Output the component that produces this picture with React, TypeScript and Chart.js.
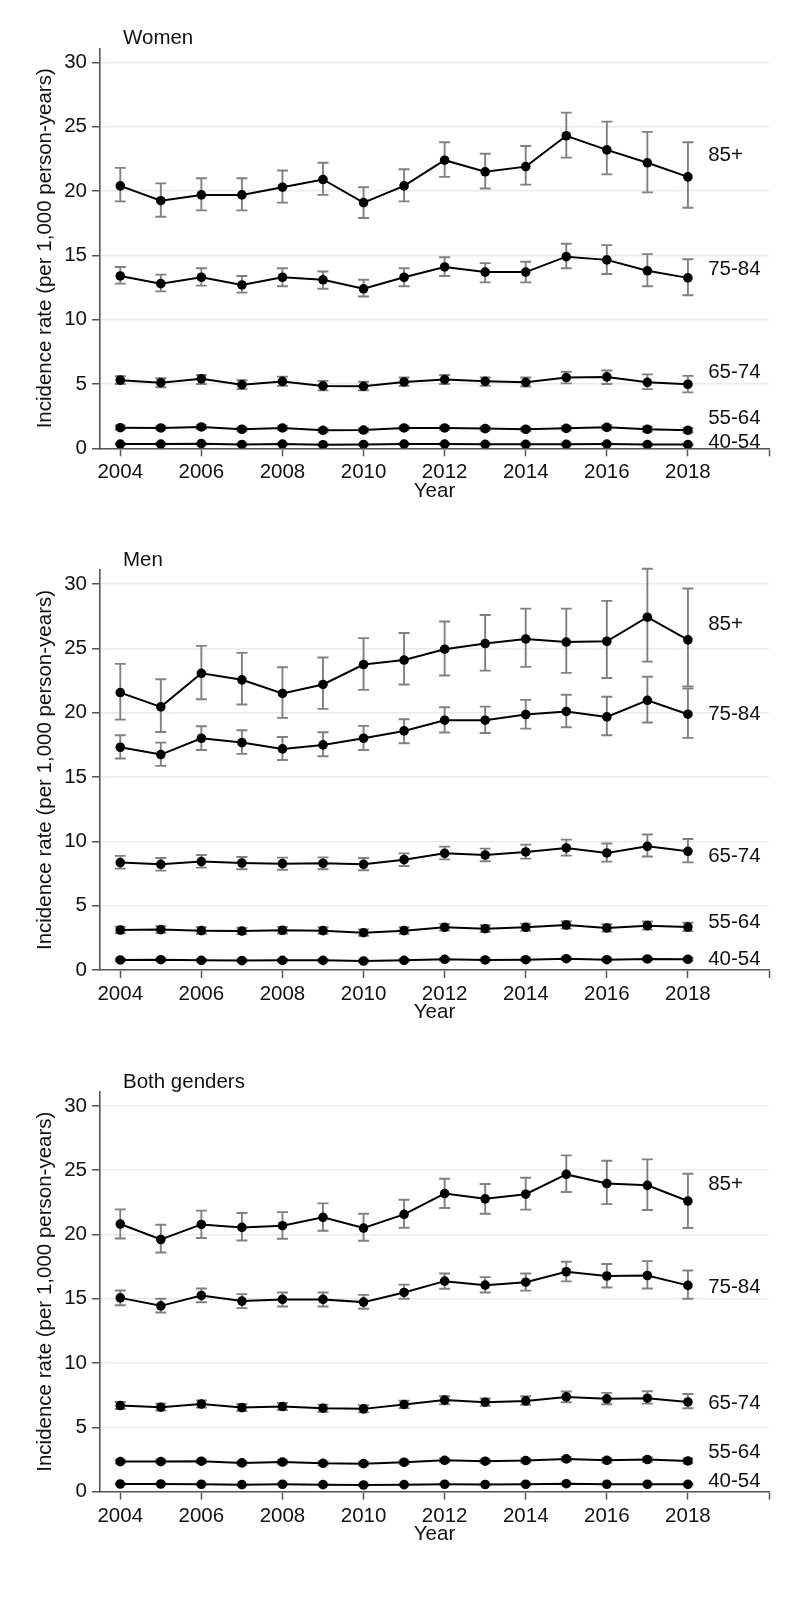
import React, { useEffect, useRef } from 'react';
import { Chart, registerables } from 'chart.js';

Chart.register(...registerables);

const FONT = '"Liberation Sans", Arial, Helvetica, sans-serif';
const FS = 20.5;

const YEARS = [2004, 2005, 2006, 2007, 2008, 2009, 2010, 2011, 2012, 2013, 2014, 2015, 2016, 2017, 2018];
const X_TICKS = [2004, 2006, 2008, 2010, 2012, 2014, 2016, 2018, 2020];
const Y_TICKS = [0, 5, 10, 15, 20, 25, 30];
const GROUPS = ['85+', '75-84', '65-74', '55-64', '40-54'];
const PANEL_TITLES = ['Women', 'Men', 'Both genders'];
const X_TITLE = 'Year';
const Y_TITLE = 'Incidence rate (per 1,000 person-years)';

// ---------- Women ----------
const women85 = [20.4, 19.25, 19.7, 19.7, 20.3, 20.9, 19.1, 20.4, 22.4, 21.5, 21.9, 24.3, 23.2, 22.2, 21.1];
const women85Lo = [19.2, 18.0, 18.5, 18.5, 19.1, 19.7, 17.9, 19.2, 21.1, 20.2, 20.5, 22.6, 21.3, 19.9, 18.7];
const women85Hi = [21.8, 20.6, 21.0, 21.0, 21.6, 22.2, 20.3, 21.7, 23.8, 22.9, 23.5, 26.1, 25.4, 24.6, 23.8];
const women75 = [13.4, 12.8, 13.3, 12.7, 13.3, 13.1, 12.4, 13.3, 14.1, 13.7, 13.7, 14.9, 14.65, 13.8, 13.25];
const women75Lo = [12.8, 12.2, 12.65, 12.1, 12.6, 12.4, 11.8, 12.6, 13.4, 12.9, 12.9, 14.0, 13.55, 12.6, 11.9];
const women75Hi = [14.1, 13.5, 14.0, 13.4, 14.0, 13.75, 13.1, 14.0, 14.85, 14.4, 14.5, 15.9, 15.8, 15.1, 14.7];
const women65 = [5.3, 5.1, 5.4, 4.95, 5.2, 4.85, 4.82, 5.16, 5.34, 5.21, 5.13, 5.5, 5.55, 5.13, 4.98];
const women65Lo = [5.0, 4.75, 5.0, 4.6, 4.85, 4.5, 4.5, 4.85, 5.0, 4.85, 4.8, 5.05, 5.0, 4.6, 4.35];
const women65Hi = [5.6, 5.45, 5.7, 5.3, 5.57, 5.24, 5.18, 5.5, 5.7, 5.5, 5.5, 5.95, 6.05, 5.75, 5.63];
const women55 = [1.6, 1.58, 1.66, 1.48, 1.58, 1.4, 1.42, 1.58, 1.58, 1.53, 1.48, 1.55, 1.63, 1.48, 1.4];
const women55Lo = [1.45, 1.43, 1.5, 1.33, 1.43, 1.26, 1.28, 1.43, 1.43, 1.38, 1.33, 1.39, 1.46, 1.3, 1.22];
const women55Hi = [1.76, 1.73, 1.82, 1.63, 1.74, 1.55, 1.57, 1.73, 1.74, 1.68, 1.63, 1.72, 1.8, 1.67, 1.59];
const women40 = [0.33, 0.33, 0.36, 0.3, 0.33, 0.28, 0.3, 0.33, 0.33, 0.31, 0.31, 0.31, 0.33, 0.29, 0.29];
const women40Lo = [0.27, 0.27, 0.3, 0.24, 0.27, 0.22, 0.24, 0.27, 0.27, 0.25, 0.25, 0.25, 0.26, 0.22, 0.22];
const women40Hi = [0.39, 0.39, 0.42, 0.36, 0.39, 0.34, 0.36, 0.39, 0.39, 0.37, 0.37, 0.37, 0.4, 0.36, 0.36];
const womenLabelY = [22.8, 13.9, 5.9, 2.36, 0.49];

// ---------- Men ----------
const men85 = [21.57, 20.46, 23.07, 22.56, 21.5, 22.2, 23.75, 24.1, 24.94, 25.38, 25.74, 25.5, 25.56, 27.43, 25.67];
const men85Lo = [19.47, 18.5, 21.05, 20.64, 19.6, 20.3, 21.78, 22.2, 22.9, 23.28, 23.57, 23.1, 22.7, 23.98, 22.04];
const men85Hi = [23.8, 22.6, 25.2, 24.66, 23.54, 24.3, 25.8, 26.2, 27.1, 27.6, 28.1, 28.1, 28.7, 31.2, 29.66];
const men75 = [17.32, 16.75, 18.02, 17.68, 17.19, 17.5, 18.02, 18.59, 19.42, 19.42, 19.86, 20.1, 19.68, 20.97, 19.89];
const men75Lo = [16.44, 15.87, 17.1, 16.8, 16.33, 16.62, 17.1, 17.63, 18.46, 18.43, 18.77, 18.87, 18.25, 19.24, 18.05];
const men75Hi = [18.25, 17.68, 18.95, 18.64, 18.12, 18.49, 18.98, 19.5, 20.43, 20.48, 21.0, 21.4, 21.24, 22.8, 21.88];
const men65 = [8.35, 8.22, 8.43, 8.32, 8.27, 8.3, 8.22, 8.58, 9.07, 8.94, 9.18, 9.49, 9.1, 9.62, 9.23];
const men65Lo = [7.88, 7.73, 7.96, 7.83, 7.8, 7.83, 7.75, 8.09, 8.6, 8.45, 8.66, 8.89, 8.43, 8.82, 8.37];
const men65Hi = [8.87, 8.71, 8.94, 8.79, 8.74, 8.76, 8.71, 9.07, 9.59, 9.44, 9.75, 10.14, 9.83, 10.53, 10.19];
const men55 = [3.11, 3.14, 3.06, 3.03, 3.09, 3.06, 2.9, 3.06, 3.32, 3.21, 3.32, 3.5, 3.27, 3.45, 3.34];
const men55Lo = [2.86, 2.89, 2.82, 2.79, 2.84, 2.81, 2.66, 2.81, 3.06, 2.95, 3.05, 3.22, 2.98, 3.14, 3.02];
const men55Hi = [3.37, 3.4, 3.32, 3.29, 3.35, 3.32, 3.16, 3.32, 3.59, 3.48, 3.6, 3.79, 3.57, 3.77, 3.67];
const men40 = [0.78, 0.8, 0.75, 0.73, 0.75, 0.75, 0.7, 0.75, 0.83, 0.78, 0.8, 0.88, 0.8, 0.86, 0.83];
const men40Lo = [0.68, 0.7, 0.65, 0.63, 0.65, 0.65, 0.6, 0.65, 0.72, 0.67, 0.69, 0.77, 0.69, 0.74, 0.71];
const men40Hi = [0.88, 0.9, 0.85, 0.83, 0.85, 0.85, 0.8, 0.85, 0.94, 0.89, 0.91, 0.99, 0.91, 0.98, 0.95];
const menLabelY = [26.9, 19.9, 8.87, 3.68, 0.83];

// ---------- Both genders ----------
const both85 = [20.81, 19.61, 20.78, 20.55, 20.68, 21.33, 20.5, 21.56, 23.18, 22.77, 23.13, 24.67, 23.96, 23.82, 22.6];
const both85Lo = [19.69, 18.6, 19.72, 19.53, 19.67, 20.29, 19.51, 20.52, 22.06, 21.61, 21.93, 23.3, 22.36, 21.9, 20.5];
const both85Hi = [21.95, 20.76, 21.85, 21.67, 21.74, 22.42, 21.61, 22.7, 24.33, 23.92, 24.41, 26.15, 25.73, 25.84, 24.72];
const both75 = [15.07, 14.45, 15.26, 14.82, 14.95, 14.95, 14.74, 15.49, 16.37, 16.06, 16.29, 17.1, 16.77, 16.81, 16.04];
const both75Lo = [14.5, 13.93, 14.73, 14.27, 14.4, 14.4, 14.22, 15.0, 15.78, 15.49, 15.63, 16.35, 15.88, 15.8, 15.0];
const both75Hi = [15.64, 15.0, 15.8, 15.36, 15.49, 15.49, 15.3, 16.1, 16.97, 16.68, 16.97, 17.88, 17.7, 17.93, 17.2];
const both65 = [6.7, 6.57, 6.82, 6.54, 6.62, 6.49, 6.44, 6.78, 7.12, 6.96, 7.06, 7.37, 7.22, 7.27, 6.98];
const both65Lo = [6.43, 6.3, 6.55, 6.27, 6.35, 6.22, 6.17, 6.5, 6.8, 6.67, 6.75, 6.96, 6.8, 6.85, 6.49];
const both65Hi = [6.98, 6.85, 7.1, 6.82, 6.9, 6.77, 6.72, 7.07, 7.42, 7.25, 7.42, 7.79, 7.68, 7.81, 7.6];
const both55 = [2.34, 2.34, 2.37, 2.24, 2.31, 2.21, 2.18, 2.29, 2.44, 2.37, 2.42, 2.55, 2.44, 2.5, 2.39];
const both55Lo = [2.2, 2.2, 2.23, 2.1, 2.17, 2.07, 2.04, 2.15, 2.29, 2.22, 2.27, 2.39, 2.27, 2.33, 2.2];
const both55Hi = [2.48, 2.48, 2.51, 2.38, 2.45, 2.35, 2.32, 2.43, 2.59, 2.52, 2.57, 2.71, 2.61, 2.67, 2.58];
const both40 = [0.6, 0.6, 0.58, 0.55, 0.58, 0.55, 0.52, 0.55, 0.58, 0.56, 0.58, 0.62, 0.58, 0.58, 0.57];
const both40Lo = [0.54, 0.54, 0.52, 0.49, 0.52, 0.49, 0.46, 0.49, 0.52, 0.5, 0.52, 0.55, 0.51, 0.51, 0.5];
const both40Hi = [0.66, 0.66, 0.64, 0.61, 0.64, 0.61, 0.58, 0.61, 0.64, 0.62, 0.64, 0.69, 0.65, 0.65, 0.64];
const bothLabelY = [23.9, 15.85, 6.9, 3.09, 0.83];

const LABEL_X = 2018.5;

type Series = { values: number[]; lo: number[]; hi: number[] };

const PANELS = [
  {
    title: PANEL_TITLES[0],
    series: [
      { values: women85, lo: women85Lo, hi: women85Hi },
      { values: women75, lo: women75Lo, hi: women75Hi },
      { values: women65, lo: women65Lo, hi: women65Hi },
      { values: women55, lo: women55Lo, hi: women55Hi },
      { values: women40, lo: women40Lo, hi: women40Hi },
    ] as Series[],
    labelY: womenLabelY,
    top: 0,
    height: 520,
    padTop: 48.3,
  },
  {
    title: PANEL_TITLES[1],
    series: [
      { values: men85, lo: men85Lo, hi: men85Hi },
      { values: men75, lo: men75Lo, hi: men75Hi },
      { values: men65, lo: men65Lo, hi: men65Hi },
      { values: men55, lo: men55Lo, hi: men55Hi },
      { values: men40, lo: men40Lo, hi: men40Hi },
    ] as Series[],
    labelY: menLabelY,
    top: 520,
    height: 520,
    padTop: 50,
  },
  {
    title: PANEL_TITLES[2],
    series: [
      { values: both85, lo: both85Lo, hi: both85Hi },
      { values: both75, lo: both75Lo, hi: both75Hi },
      { values: both65, lo: both65Lo, hi: both65Hi },
      { values: both55, lo: both55Lo, hi: both55Hi },
      { values: both40, lo: both40Lo, hi: both40Hi },
    ] as Series[],
    labelY: bothLabelY,
    top: 1040,
    height: 560,
    padTop: 51.7,
  },
];

const PLOT_H = 400;
const X_AXIS_H = 53;
const AXIS_COLOR = '#555555';
const GRID_COLOR = '#e3edf0';
const ERR_COLOR = '#808080';
const TEXT_COLOR = '#111111';

function Panel(props: { title: string; series: Series[]; labelY: number[]; top: number; height: number; padTop: number }) {
  const ref = useRef<HTMLCanvasElement | null>(null);
  useEffect(() => {
    const canvas = ref.current;
    if (!canvas) return;
    const { title, series, labelY, height, padTop } = props;
    const padBottom = height - padTop - PLOT_H - X_AXIS_H;

    const errorBars = {
      id: 'errorBars',
      beforeDatasetsDraw(chart: any) {
        const { ctx, scales } = chart;
        const x = scales.x;
        const y = scales.y;
        ctx.save();
        ctx.strokeStyle = ERR_COLOR;
        ctx.lineWidth = 1.9;
        series.forEach((s) => {
          YEARS.forEach((yr, i) => {
            const px = x.getPixelForValue(yr);
            const y1 = y.getPixelForValue(s.lo[i]);
            const y2 = y.getPixelForValue(s.hi[i]);
            ctx.beginPath();
            ctx.moveTo(px, y1);
            ctx.lineTo(px, y2);
            ctx.moveTo(px - 5.5, y1);
            ctx.lineTo(px + 5.5, y1);
            ctx.moveTo(px - 5.5, y2);
            ctx.lineTo(px + 5.5, y2);
            ctx.stroke();
          });
        });
        ctx.restore();
      },
    };

    const textPlugin = {
      id: 'panelText',
      afterDraw(chart: any) {
        const { ctx, scales, chartArea } = chart;
        ctx.save();
        ctx.fillStyle = TEXT_COLOR;
        ctx.font = `${FS}px ${FONT}`;
        ctx.textBaseline = 'middle';
        ctx.textAlign = 'left';
        ctx.fillText(title, chartArea.left + 23, chartArea.top - 9.5);
        GROUPS.forEach((g, i) => {
          ctx.fillText(g, scales.x.getPixelForValue(LABEL_X), scales.y.getPixelForValue(labelY[i]));
        });
        ctx.restore();
      },
    };

    const chart = new Chart(canvas, {
      type: 'line',
      data: {
        datasets: series.map((s, k) => ({
          label: GROUPS[k],
          data: YEARS.map((yr, i) => ({ x: yr, y: s.values[i] })),
          borderColor: '#000000',
          backgroundColor: '#000000',
          borderWidth: 2,
          pointRadius: 4.8,
          pointBorderWidth: 0,
          pointBackgroundColor: '#000000',
          tension: 0,
        })),
      },
      options: {
        responsive: false,
        animation: false,
        devicePixelRatio: 1,
        layout: { padding: { top: padTop, bottom: padBottom, left: 0, right: 31 } },
        plugins: {
          legend: { display: false },
          tooltip: { enabled: false },
        },
        scales: {
          x: {
            type: 'linear',
            min: 2003.5,
            max: 2020,
            afterBuildTicks: (s: any) => {
              s.ticks = X_TICKS.map((v) => ({ value: v }));
            },
            afterFit: (s: any) => {
              s.height = X_AXIS_H;
            },
            grid: { drawOnChartArea: false, drawTicks: true, tickLength: 8, tickColor: AXIS_COLOR, tickWidth: 1.5 },
            border: { color: AXIS_COLOR, width: 1.6 },
            ticks: {
              autoSkip: false,
              maxRotation: 0,
              padding: 6,
              color: TEXT_COLOR,
              font: { family: FONT, size: FS, lineHeight: 1 },
              callback: (v: any) => (v === 2020 ? '' : String(v)),
            },
            title: {
              display: true,
              text: X_TITLE,
              color: TEXT_COLOR,
              font: { family: FONT, size: FS, lineHeight: 1 },
              padding: { top: 0, bottom: 0 },
            },
          },
          y: {
            type: 'linear',
            min: 0,
            max: 31.1,
            afterBuildTicks: (s: any) => {
              s.ticks = Y_TICKS.map((v) => ({ value: v }));
            },
            afterFit: (s: any) => {
              s.width = 100;
            },
            grid: { color: GRID_COLOR, lineWidth: 1.5, drawTicks: true, tickLength: 8, tickColor: AXIS_COLOR, tickWidth: 1.5 },
            border: { color: AXIS_COLOR, width: 1.6 },
            ticks: {
              padding: 5,
              color: TEXT_COLOR,
              font: { family: FONT, size: FS, lineHeight: 1 },
              callback: (v: any) => String(v),
            },
            title: {
              display: true,
              text: Y_TITLE,
              color: TEXT_COLOR,
              font: { family: FONT, size: FS, lineHeight: 1 },
              padding: { top: 35, bottom: 0 },
            },
          },
        },
      } as any,
      plugins: [errorBars, textPlugin],
    });
    return () => chart.destroy();
  }, []);

  return (
    <div style={{ position: 'absolute', left: 0, top: props.top, width: 800, height: props.height }}>
      <canvas ref={ref} width={800} height={props.height} style={{ display: 'block', width: 800, height: props.height }} />
    </div>
  );
}

export default function App() {
  return (
    <div style={{ position: 'absolute', left: 0, top: 0, width: 800, height: 1600, background: '#ffffff' }}>
      {PANELS.map((p, i) => (
        <Panel key={i} title={p.title} series={p.series} labelY={p.labelY} top={p.top} height={p.height} padTop={p.padTop} />
      ))}
    </div>
  );
}
